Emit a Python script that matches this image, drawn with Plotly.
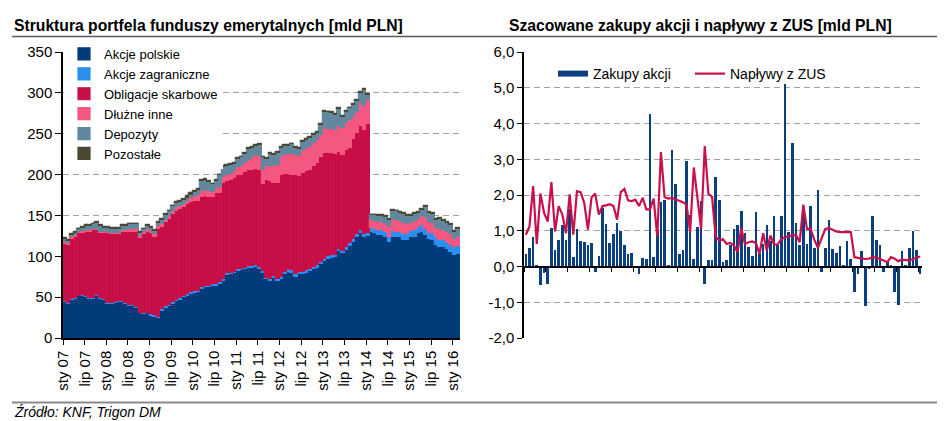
import plotly.graph_objects as go

W, H = 945, 421

# ---------------- data ----------------
tick_labels = ["sty 07", "lip 07", "sty 08", "lip 08", "sty 09", "lip 09", "sty 10", "lip 10",
               "sty 11", "lip 11", "sty 12", "lip 12", "sty 13", "lip 13", "sty 14", "lip 14",
               "sty 15", "lip 15", "sty 16"]

# Left chart: monthly portfolio structure, Jan 2007 - Feb 2016 [mld PLN]
akcje_polskie = [44, 42, 47, 48, 51, 52, 50, 48, 48, 52,
                 48, 47, 42, 42, 43, 44, 44, 42, 39, 39,
                 37, 30, 29, 30, 27, 26, 24, 33, 37, 39,
                 42, 45, 47, 50, 52, 54, 55, 56, 60, 62,
                 62, 64, 64, 66, 70, 77, 78, 79, 82, 83,
                 84, 86, 86, 87, 85, 80, 72, 70, 74, 70,
                 72, 78, 81, 80, 75, 78, 78, 80, 82, 84,
                 86, 90, 94, 97, 98, 99, 106, 104, 108, 113,
                 118, 124, 129, 124, 125, 130, 128, 126, 126, 124,
                 118, 124, 123, 123, 120, 120, 124, 124, 128, 130,
                 126, 121, 120, 114, 111, 111, 109, 105, 101, 103]
akcje_zagraniczne = [1, 1, 1, 1, 1, 1, 1, 1, 1, 1,
                     1, 1, 1, 1, 1, 1, 1, 1, 1, 1,
                     1, 1, 1, 1, 2, 2, 2, 2, 2, 2,
                     2, 2, 2, 2, 2, 2, 2, 2, 2, 2,
                     2, 2, 2, 2, 2, 2, 2, 2, 2, 2,
                     2, 2, 2, 2, 2, 2, 2, 2, 2, 2,
                     3, 3, 3, 3, 3, 3, 3, 3, 3, 3,
                     3, 3, 3, 3, 3, 3, 3, 3, 3, 3,
                     3, 3, 3, 3, 3, 5, 5, 6, 6, 6,
                     6, 7, 7, 7, 7, 7, 7, 8, 8, 8,
                     8, 8, 8, 9, 9, 9, 9, 9, 10, 10]
obligacje_skarbowe = [70, 71, 73, 75, 76, 76, 79, 81, 83, 79,
                      79, 80, 85, 84, 83, 82, 85, 87, 90, 90,
                      92, 91, 97, 99, 99, 96, 108, 101, 103, 105,
                      108, 109, 109, 108, 110, 110, 111, 110, 111, 110,
                      109, 106, 111, 110, 118, 113, 113, 115, 116, 115,
                      117, 117, 118, 118, 119, 106, 119, 120, 114, 118,
                      125, 120, 117, 117, 121, 117, 121, 121, 120, 124,
                      125, 129, 130, 126, 125, 123, 119, 117, 119, 117,
                      123, 124, 127, 127, 134, 0, 0, 0, 0, 0,
                      0, 0, 0, 0, 0, 0, 0, 0, 0, 0,
                      0, 0, 0, 0, 0, 0, 0, 0, 0, 0]
dluzne_inne = [2, 2, 2, 2, 2, 2, 2, 2, 2, 2,
               2, 2, 2, 2, 2, 2, 2, 2, 3, 3,
               3, 3, 3, 3, 3, 3, 3, 3, 3, 3,
               4, 4, 4, 4, 4, 5, 6, 7, 7, 7,
               7, 7, 7, 7, 7, 7, 8, 8, 9, 10,
               11, 13, 15, 16, 17, 18, 18, 19, 21, 22,
               23, 23, 24, 25, 25, 25, 27, 28, 29, 28,
               28, 27, 31, 30, 30, 29, 31, 33, 33, 34,
               26, 25, 28, 30, 29, 9, 10, 10, 10, 10,
               12, 14, 14, 13, 14, 12, 10, 11, 10, 11,
               14, 13, 13, 12, 14, 12, 12, 13, 10, 11]
depozyty = [4, 3, 3, 3, 3, 4, 5, 5, 5, 7,
            7, 5, 5, 5, 5, 5, 5, 5, 6, 6,
            6, 4, 3, 4, 4, 4, 4, 6, 6, 6,
            5, 5, 5, 5, 3, 4, 5, 6, 12, 12,
            11, 9, 8, 14, 12, 12, 11, 9, 10, 11,
            11, 13, 12, 12, 13, 15, 8, 14, 13, 15,
            10, 11, 10, 12, 9, 8, 11, 10, 11, 10,
            9, 12, 19, 20, 19, 19, 21, 14, 14, 14,
            15, 14, 13, 20, 6, 6, 7, 7, 7, 8,
            9, 11, 11, 10, 11, 10, 8, 9, 7, 8,
            12, 11, 11, 10, 12, 11, 11, 11, 9, 10]
pozostale = [1, 1, 1, 1, 1, 1, 1, 1, 1, 1,
             1, 1, 1, 1, 1, 1, 1, 1, 1, 1,
             1, 1, 1, 1, 1, 1, 1, 1, 1, 1,
             1, 1, 1, 1, 3, 3, 1, 1, 1, 1,
             1, 1, 1, 1, 1, 1, 1, 1, 1, 1,
             1, 1, 1, 1, 1, 1, 1, 1, 1, 1,
             1, 1, 1, 1, 1, 1, 1, 1, 1, 1,
             1, 1, 1, 1, 1, 1, 1, 1, 1, 1,
             1, 1, 1, 1, 1, 1, 1, 1, 1, 1,
             1, 1, 1, 1, 1, 1, 1, 1, 1, 1,
             1, 1, 1, 1, 1, 1, 1, 1, 1, 1]

# Right chart: monthly estimates, Jan 2007 - Jan 2016 [mld PLN]
zakupy_akcji = [0.35, 0.53, 0.82, 0.05, -0.52, -0.18, -0.48, 1.08, 0.45, 0.75,
                1.15, 0.75, 1.60, 0.27, 1.05, 0.70, 0.68, 0.60, 0.67, -0.15,
                0.30, 1.65, 1.20, 0.67, 0.90, 1.22, 1.00, 0.60, 0.35, 0.38,
                -0.05, -0.22, 0.23, 0.20, 4.27, 0.27, 1.00, 1.80, 1.85, 0.05,
                3.25, 2.30, 0.35, 0.47, 2.96, 1.45, 0.20, 1.10, 1.82, -0.48,
                0.17, 0.19, 2.50, 1.85, 0.12, 0.17, 0.60, 1.05, 1.15, 1.56,
                0.95, 0.54, 0.30, 1.53, 0.35, 0.63, 1.16, 0.72, 1.40, 0.60,
                1.42, 5.10, 0.96, 3.45, 1.22, 0.60, 1.52, 0.63, 1.70, 0.52,
                2.15, -0.15, 0.53, 1.30, 0.50, 0.37, 0.57, 0.05, 0.72, 0.20,
                -0.72, -0.22, 0.42, -1.10, -0.08, 1.42, 0.75, 0.60, -0.15, 0.15,
                0.02, -0.70, -1.08, 0.42, 0.05, 0.53, 0.98, 0.45, -0.22]
naplywy_zus = [0.89, 1.12, 2.25, 0.63, 2.04, 1.50, 1.26, 2.36, 0.98, 1.69,
               1.45, 0.93, 2.02, 0.89, 2.11, 2.08, 1.78, 1.03, 1.94, 2.04,
               1.45, 1.69, 1.71, 1.74, 1.69, 1.31, 2.08, 2.17, 1.85, 1.83,
               1.87, 1.69, 1.92, 1.60, 1.60, 1.90, 0.84, 3.20, 1.94, 1.90,
               1.92, 1.88, 1.85, 1.80, 1.73, 0.96, 2.77, 1.89, 1.05, 3.37,
               2.03, 1.95, 0.82, 0.73, 0.76, 0.63, 0.66, 0.59, 0.40, 1.08,
               0.63, 0.68, 0.70, 0.66, 0.35, 0.93, 0.45, 0.87, 0.61, 0.62,
               0.77, 0.82, 0.85, 0.87, 0.88, 0.68, 1.73, 1.05, 1.05, 0.75,
               0.52, 0.80, 1.05, 1.08, 1.02, 0.98, 0.96, 0.95, 0.96, 0.96,
               0.26, 0.24, 0.22, 0.21, 0.22, 0.26, 0.25, 0.22, 0.17, 0.12,
               0.26, 0.22, 0.15, 0.19, 0.19, 0.17, 0.21, 0.24, 0.28]

y2_tick_values = [-2, -1, 0, 1, 2, 3, 4, 5, 6]
y2_tick_labels = ["-2,0", "-1,0", "0,0", "1,0", "2,0", "3,0", "4,0", "5,0", "6,0"]

# ---------------- styling ----------------
FONT = "Liberation Sans, Arial, sans-serif"
C_PL = "#023B7A"
C_ZAG = "#2C8EF0"
C_OBL = "#C70E46"
C_DLU = "#F4577F"
C_DEP = "#62889F"
C_POZ = "#4A4832"
C_BAR = "#0B3F80"
C_LINE = "#C9104A"
GRID = "#A3A3A3"

# the page body adds an 8px offset; positions below are given in window pixels
OFF = 8

def fx(p):
    return (p - OFF) / W

def fy(p):
    return 1 - (p - OFF) / H

Y0, Y1 = fy(338), fy(52)

fig = go.Figure()

n_left = len(akcje_polskie)
x_left = list(range(n_left))
left_series = [
    ("Akcje polskie", akcje_polskie, C_PL),
    ("Akcje zagraniczne", akcje_zagraniczne, C_ZAG),
    ("Obligacje skarbowe", obligacje_skarbowe, C_OBL),
    ("Dłużne inne", dluzne_inne, C_DLU),
    ("Depozyty", depozyty, C_DEP),
    ("Pozostałe", pozostale, C_POZ),
]
for name, vals, col in left_series:
    fig.add_trace(go.Bar(
        x=x_left, y=vals, name=name, xaxis="x", yaxis="y", legend="legend",
        marker=dict(color=col, line=dict(color=col, width=1.2)), hoverinfo="skip"))

n_right = len(zakupy_akcji)
x_right = list(range(n_right))
fig.add_trace(go.Bar(
    x=x_right, y=zakupy_akcji, name="Zakupy akcji", xaxis="x2", yaxis="y2",
    width=0.72, marker=dict(color=C_BAR, line=dict(width=0)), showlegend=False, hoverinfo="skip"))
fig.add_trace(go.Scatter(
    x=[None], y=[None], mode="lines", name="Zakupy akcji", xaxis="x2", yaxis="y2",
    legend="legend2", line=dict(color=C_BAR, width=6)))
fig.add_trace(go.Scatter(
    x=x_right, y=naplywy_zus, mode="lines", name="Napływy z ZUS", xaxis="x2", yaxis="y2",
    legend="legend2", line=dict(color=C_LINE, width=2.2), hoverinfo="skip"))

tickvals_left = [6 * i - 0.5 for i in range(len(tick_labels))]
tickvals_right = [6 * i - 0.5 for i in range(len(tick_labels))]

zero_pos = Y0 + (Y1 - Y0) * (0 - (-2)) / 8.0

fig.update_layout(
    width=W, height=H,
    margin=dict(l=0, r=0, t=0, b=0, autoexpand=False),
    paper_bgcolor="white", plot_bgcolor="white",
    font=dict(family=FONT, size=15, color="black"),
    barmode="relative", bargap=0,
    xaxis=dict(domain=[fx(63), fx(460)], anchor="y", range=[-0.5, n_left - 0.5],
               showline=True, linecolor="black", linewidth=1.5,
               ticks="outside", ticklen=5, tickwidth=1.2, tickcolor="black",
               tickvals=tickvals_left, ticktext=tick_labels, tickangle=-90,
               tickfont=dict(size=15), showgrid=False, zeroline=False, fixedrange=True,
               automargin=False),
    yaxis=dict(domain=[Y0, Y1], anchor="x", range=[0, 350], tick0=0, dtick=50,
               showline=True, linecolor="black", linewidth=1.5,
               ticks="outside", ticklen=6, tickwidth=1.2, tickcolor="black",
               showgrid=True, gridcolor=GRID, gridwidth=1.3, griddash="6px,4px",
               zeroline=False, tickfont=dict(size=15), fixedrange=True, automargin=False),
    xaxis2=dict(domain=[fx(524), fx(922)], anchor="free", position=zero_pos,
                range=[-0.5, n_right - 0.5],
                showline=True, linecolor="black", linewidth=1.5,
                ticks="outside", ticklen=5, tickwidth=1.2, tickcolor="black",
                tickvals=tickvals_right, showticklabels=False,
                showgrid=False, zeroline=False, fixedrange=True, automargin=False),
    xaxis3=dict(overlaying="x2", anchor="y2", side="bottom",
                range=[-0.5, n_right - 0.5], showline=False, ticks="",
                tickvals=tickvals_right, ticktext=tick_labels, tickangle=-90,
                tickfont=dict(size=15), showgrid=False, zeroline=False, fixedrange=True,
                automargin=False),
    yaxis2=dict(domain=[Y0, Y1], anchor="x2", range=[-2, 6],
                tickvals=y2_tick_values, ticktext=y2_tick_labels,
                showline=True, linecolor="black", linewidth=1.5,
                ticks="outside", ticklen=5, tickwidth=1.2, tickcolor="black",
                showgrid=True, gridcolor=GRID, gridwidth=1.3, griddash="6px,4px",
                zeroline=False, tickfont=dict(size=15), fixedrange=True, automargin=False),
    legend=dict(x=fx(64), xanchor="left", y=fy(39), yanchor="top",
                bgcolor="white", font=dict(size=13), traceorder="normal",
                borderwidth=0, tracegroupgap=0),
    legend2=dict(orientation="h", x=fx(553), xanchor="left", y=fy(58), yanchor="top",
                 bgcolor="rgba(0,0,0,0)", font=dict(size=14),
                 entrywidth=92, entrywidthmode="pixels"),
    showlegend=True,
)

fig.add_annotation(text="<b>Struktura portfela funduszy emerytalnych [mld PLN]</b>",
                   xref="paper", yref="paper", x=fx(12), y=fy(25), xanchor="left", yanchor="middle",
                   showarrow=False, font=dict(size=15.7, family=FONT))
fig.add_annotation(text="<b>Szacowane zakupy akcji i napływy z ZUS [mld PLN]</b>",
                   xref="paper", yref="paper", x=fx(700), y=fy(25), xanchor="center", yanchor="middle",
                   showarrow=False, font=dict(size=15.7, family=FONT))
fig.add_annotation(text="<i>Źródło: KNF, Trigon DM</i>",
                   xref="paper", yref="paper", x=fx(12), y=fy(412), xanchor="left", yanchor="middle",
                   showarrow=False, font=dict(size=14, family=FONT))

fig.add_shape(type="line", xref="paper", yref="paper", x0=fx(12), x1=fx(945), y0=fy(36.5), y1=fy(36.5),
              line=dict(color="#5A5A5A", width=1.5))
fig.add_shape(type="line", xref="paper", yref="paper", x0=fx(12), x1=fx(945), y0=fy(402.5), y1=fy(402.5),
              line=dict(color="#8A8A8A", width=2))

fig.write_html("out.html")
